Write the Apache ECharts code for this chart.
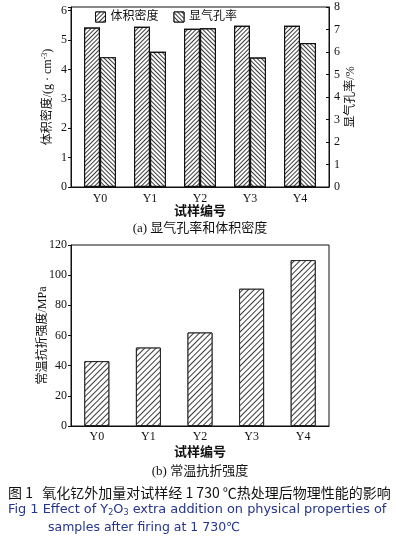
<!DOCTYPE html>
<html>
<head>
<meta charset="utf-8">
<script src="https://cdn.jsdelivr.net/npm/echarts@6/dist/echarts.min.js"></script>
<style>html,body{margin:0;padding:0;background:#fff;}#c{width:396px;height:546px;}</style>
</head>
<body>
<div id="c"></div>
<script>
// ---- data ----
var categories = ['Y0', 'Y1', 'Y2', 'Y3', 'Y4'];
var densityValues = [5.42, 5.45, 5.38, 5.48, 5.48];     // g/cm3, left axis
var porosityValues = [5.77, 6.01, 7.05, 5.75, 6.40];    // %, right axis
var strengthValues = [43, 52, 62, 91, 110];             // MPa
var densityTicks = [0, 1, 2, 3, 4, 5, 6];
var porosityTicks = [0, 1, 2, 3, 4, 5, 6, 7, 8];
var strengthTicks = [0, 20, 40, 60, 80, 100, 120];

var serif = '"Liberation Serif", "Times New Roman", "Noto Sans CJK SC", serif';
var cjk = '"Liberation Serif", "Noto Sans CJK SC", serif';

function hatch(rot, gap) {
  return {
    symbol: 'rect', symbolSize: 1,
    dashArrayX: [1, 0], dashArrayY: [1, gap],
    rotation: rot, color: '#3a3a3a', backgroundColor: '#ffffff'
  };
}

var chart = echarts.init(document.getElementById('c'), null, {renderer: 'canvas'});
var option = {
  backgroundColor: '#ffffff',
  animation: false,
  grid: [
    {left: 71, right: 67, top: 7, height: 180, show: true, borderColor: '#111', borderWidth: 1, backgroundColor: 'transparent'},
    {left: 71, right: 67, top: 245, height: 181, show: true, borderColor: '#111', borderWidth: 1, backgroundColor: 'transparent'}
  ],
  legend: {
    left: 90, top: 6,
    icon: 'rect', itemWidth: 10, itemHeight: 10, itemGap: 15,
    textStyle: {fontSize: 12, fontFamily: cjk, color: '#111'},
    data: [
      {name: '体积密度', itemStyle: {color: '#ffffff', borderColor: '#111', borderWidth: 1, decal: hatch(-Math.PI / 4, 2)}},
      {name: '显气孔率', itemStyle: {color: '#ffffff', borderColor: '#111', borderWidth: 1, decal: hatch(Math.PI / 4, 2)}}
    ]
  },
  xAxis: [
    {
      type: 'value', gridIndex: 0, min: -0.58, max: 4.58,
      axisLine: {show: true, onZero: false, lineStyle: {color: '#111', width: 1}},
      axisTick: {show: false}, splitLine: {show: false},
      axisLabel: {
        margin: 6, fontSize: 12, fontFamily: serif, color: '#111',
        formatter: function (v) { return Number.isInteger(v) && categories[v] ? categories[v] : ''; }
      },
      name: '试样编号', nameLocation: 'middle', nameGap: 18, nameMoveOverlap: false,
      nameTextStyle: {fontSize: 13, fontWeight: 'bold', fontFamily: cjk, color: '#111'}
    },
    {
      type: 'category', gridIndex: 1, data: categories, boundaryGap: true,
      axisLine: {show: true, onZero: false, lineStyle: {color: '#111', width: 1}},
      axisTick: {show: false}, splitLine: {show: false},
      axisLabel: {margin: 5, fontSize: 12, fontFamily: serif, color: '#111'},
      name: '试样编号', nameLocation: 'middle', nameGap: 20, nameMoveOverlap: false,
      nameTextStyle: {fontSize: 13, fontWeight: 'bold', fontFamily: cjk, color: '#111'}
    }
  ],
  yAxis: [
    {
      type: 'value', gridIndex: 0, min: densityTicks[0], max: 6.12, interval: 1,
      axisLine: {show: true, onZero: false, lineStyle: {color: '#111'}},
      axisTick: {show: true, inside: false, length: 3, lineStyle: {color: '#111'}},
      splitLine: {show: false},
      axisLabel: {margin: 4, fontSize: 12, fontFamily: serif, color: '#111',
        formatter: function (v) { return densityTicks.indexOf(v) >= 0 ? String(v) : ''; }},
      name: '体积密度/(g · cm{sup|-3})', nameLocation: 'middle', nameGap: 16, nameRotate: 90, nameMoveOverlap: false,
      nameTextStyle: {fontSize: 12, fontFamily: cjk, color: '#111',
        rich: {sup: {fontSize: 8, fontFamily: serif, color: '#111', padding: [0, 0, 6, 0]}}}
    },
    {
      type: 'value', gridIndex: 0, position: 'right', min: porosityTicks[0], max: porosityTicks[porosityTicks.length - 1], interval: 1,
      axisLine: {show: true, onZero: false, lineStyle: {color: '#111'}},
      axisTick: {show: true, inside: true, length: 3, lineStyle: {color: '#111'}},
      splitLine: {show: false},
      axisLabel: {margin: 5, fontSize: 12, fontFamily: serif, color: '#111'},
      name: '显气孔率/%', nameLocation: 'middle', nameGap: 16, nameRotate: 90, nameMoveOverlap: false,
      nameTextStyle: {fontSize: 12, fontFamily: cjk, color: '#111'}
    },
    {
      type: 'value', gridIndex: 1, min: strengthTicks[0], max: strengthTicks[strengthTicks.length - 1], interval: 20,
      axisLine: {show: true, onZero: false, lineStyle: {color: '#111'}},
      axisTick: {show: true, inside: false, length: 3, lineStyle: {color: '#111'}},
      splitLine: {show: false},
      axisLabel: {margin: 4, fontSize: 12, fontFamily: serif, color: '#111'},
      name: '常温抗折强度/MPa', nameLocation: 'middle', nameGap: 22, nameRotate: 90, nameMoveOverlap: false,
      nameTextStyle: {fontSize: 12, fontFamily: cjk, color: '#111'}
    }
  ],
  series: [
    {
      name: '体积密度', type: 'bar', xAxisIndex: 0, yAxisIndex: 0,
      barWidth: 16, barGap: '0%',
      data: densityValues.map(function (v, i) { return [i, v]; }),
      itemStyle: {color: '#ffffff', borderColor: '#111', borderWidth: 1.2, decal: hatch(-Math.PI / 4, 2)}
    },
    {
      name: '显气孔率', type: 'bar', xAxisIndex: 0, yAxisIndex: 1,
      barWidth: 16, barGap: '0%',
      data: porosityValues.map(function (v, i) { return [i, v]; }),
      itemStyle: {color: '#ffffff', borderColor: '#111', borderWidth: 1.2, decal: hatch(Math.PI / 4, 2)}
    },
    {
      name: '常温抗折强度', type: 'bar', xAxisIndex: 1, yAxisIndex: 2,
      barWidth: 25,
      data: strengthValues,
      itemStyle: {color: '#ffffff', borderColor: '#222', borderWidth: 1, decal: hatch(-Math.PI / 4, 2.5)}
    }
  ],
  graphic: [
    {type: 'text', x: 200, y: 229, style: {text: '(a) 显气孔率和体积密度', fontSize: 13, fontFamily: cjk, fill: '#111', align: 'center', verticalAlign: 'middle'}},
    {type: 'text', x: 200, y: 472, style: {text: '(b) 常温抗折强度', fontSize: 13, fontFamily: cjk, fill: '#111', align: 'center', verticalAlign: 'middle'}},
    {type: 'text', x: 8, y: 493, style: {text: '图 1   氧化钇外加量对试样经 1 730 ℃热处理后物理性能的影响', fontSize: 14, fontFamily: '"Noto Sans CJK SC", sans-serif', fill: '#111', align: 'left', verticalAlign: 'middle'}},
    {type: 'text', x: 8, y: 510, style: {
      text: 'Fig 1 Effect of Y{sub|2}O{sub|3} extra addition on physical properties of',
      fontSize: 12.9, fontFamily: '"DejaVu Sans", sans-serif', fill: '#24358a', align: 'left', verticalAlign: 'middle',
      rich: {sub: {fontSize: 8, fontFamily: '"DejaVu Sans", sans-serif', fill: '#24358a', padding: [6, 0, 0, 0]}}}},
    {type: 'text', x: 48, y: 528, style: {text: 'samples after firing at 1 730℃', fontSize: 12.5, fontFamily: '"DejaVu Sans", sans-serif', fill: '#24358a', align: 'left', verticalAlign: 'middle'}}
  ]
};
chart.setOption(option);
</script>
</body>
</html>
